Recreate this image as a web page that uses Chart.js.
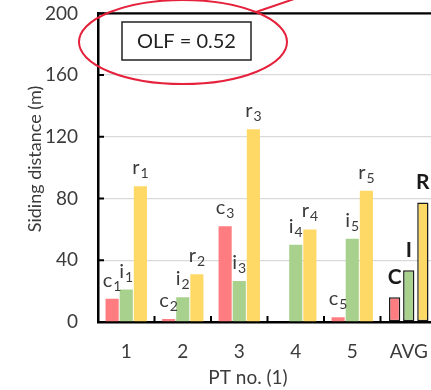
<!DOCTYPE html>
<html>
<head>
<meta charset="utf-8">
<script src="https://cdn.jsdelivr.net/npm/chart.js@4"></script>
<style>
  html, body { margin: 0; padding: 0; overflow: hidden; background: #fff; }
  #wrap { position: relative; width: 431px; height: 390px; overflow: hidden; }
  #chart { position: absolute; left: 0; top: 0; }
</style>
</head>
<body>
<div id="wrap"><canvas id="chart" width="440" height="390"></canvas></div>
<script>
// siding distance per PT, three cases c / i / r
const categories = ['1', '2', '3', '4', '5', 'AVG'];
const cValues = [15, 2, 62, 0, 3];
const iValues = [21, 16, 26.5, 50, 54];
const rValues = [88, 31, 125, 60, 85];
const avgValues = [16, 33.5, 77.5];   // C, I, R
const avgLabels = ['C', 'I', 'R'];
const seriesLetters = ['c', 'i', 'r'];
const yTicks = [0, 40, 80, 120, 160, 200];
const olfText = 'OLF = 0.52';

const colors = ['#ff7c80', '#a9d18e', '#ffd966'];
const textColor = '#3b3b3b';
const fontFamily = 'Lato, "Liberation Sans", sans-serif';

function withAvg(values) { return values.concat([null]); }
function avgOnly(v) { return [null, null, null, null, null, v]; }

const datasets = [];
[cValues, iValues, rValues].forEach(function(vals, k) {
    datasets.push({
        data: withAvg(vals),
        backgroundColor: colors[k],
        borderWidth: 0,
        categoryPercentage: 0.75,
        barPercentage: 0.93
    });
});
avgValues.forEach(function(v, k) {
    datasets.push({
        data: avgOnly(v),
        backgroundColor: colors[k],
        borderColor: '#1a1a1a',
        borderWidth: 1.5,
        borderSkipped: false,
        categoryPercentage: 0.75,
        barPercentage: 0.8
    });
});

// labels over the bars, frame, inward ticks, titles and the OLF callout
const decorations = {
    id: 'decorations',
    afterDraw: function(chart) {
        const ctx = chart.ctx;
        const area = chart.chartArea;
        const xs = chart.scales.x;
        const ys = chart.scales.y;
        ctx.save();

        // bar labels with subscripts
        ctx.fillStyle = textColor;
        ctx.textBaseline = 'alphabetic';
        for (let d = 0; d < 3; d++) {
            const meta = chart.getDatasetMeta(d);
            meta.data.forEach(function(bar, idx) {
                const v = chart.data.datasets[d].data[idx];
                if (!v) return;
                const main = seriesLetters[d];
                const sub = String(idx + 1);
                ctx.font = '20px ' + fontFamily;
                const w1 = ctx.measureText(main).width;
                ctx.font = '14px ' + fontFamily;
                const w2 = ctx.measureText(sub).width;
                const x0 = bar.x - (w1 + w2 + 1) / 2;
                const base = bar.y - 12;
                ctx.font = '20px ' + fontFamily;
                ctx.textAlign = 'left';
                ctx.fillText(main, x0, base);
                ctx.font = '14px ' + fontFamily;
                ctx.fillText(sub, x0 + w1 + 1, base + 4);
            });
        }
        ctx.fillStyle = '#1a1a1a';
        ctx.font = 'bold 21px ' + fontFamily;
        ctx.textAlign = 'center';
        for (let d = 3; d < 6; d++) {
            const bar = chart.getDatasetMeta(d).data[5];
            ctx.fillText(avgLabels[d - 3], bar.x, bar.y - 13);
        }

        // top frame line
        ctx.strokeStyle = '#000';
        ctx.lineWidth = 2.2;
        ctx.beginPath();
        ctx.moveTo(area.left - 1, area.top);
        ctx.lineTo(area.right + 10, area.top);
        ctx.stroke();

        // inward tick marks
        ctx.lineWidth = 2;
        ctx.beginPath();
        for (let i = 1; i < categories.length; i++) {
            const bx = (xs.getPixelForValue(i - 1) + xs.getPixelForValue(i)) / 2;
            ctx.moveTo(bx, area.bottom);
            ctx.lineTo(bx, area.bottom - 6);
        }
        yTicks.slice(1).forEach(function(t) {
            const py = ys.getPixelForValue(t);
            ctx.moveTo(area.left, py);
            ctx.lineTo(area.left + 6, py);
        });
        ctx.stroke();

        // axis titles
        ctx.fillStyle = textColor;
        ctx.font = '19px ' + fontFamily;
        ctx.textAlign = 'center';
        ctx.textBaseline = 'middle';
        ctx.fillText('PT no. (1)', 248, 378);
        ctx.save();
        ctx.translate(35, 159);
        ctx.rotate(-Math.PI / 2);
        ctx.font = '18px ' + fontFamily;
        ctx.fillText('Siding distance (m)', 0, 0);
        ctx.restore();

        // OLF box
        ctx.fillStyle = '#fff';
        ctx.fillRect(122, 22, 129, 38);
        ctx.strokeStyle = '#222';
        ctx.lineWidth = 1.5;
        ctx.strokeRect(122, 22, 129, 38);
        ctx.fillStyle = '#222';
        ctx.font = '20px ' + fontFamily;
        ctx.fillText(olfText, 186.5, 41.5);

        // red ellipse and pointer line
        ctx.strokeStyle = '#e5213b';
        ctx.lineWidth = 2;
        ctx.beginPath();
        ctx.ellipse(183, 42, 104, 42, 0, 0, Math.PI * 2);
        ctx.stroke();
        ctx.beginPath();
        ctx.moveTo(256, 12);
        ctx.lineTo(300, -3);
        ctx.stroke();

        ctx.restore();
    }
};

new Chart(document.getElementById('chart'), {
    type: 'bar',
    data: { labels: categories, datasets: datasets },
    options: {
        responsive: false,
        animation: false,
        skipNull: true,
        layout: { padding: { left: 0, top: 13, right: 3, bottom: 0 } },
        plugins: { legend: { display: false }, tooltip: { enabled: false } },
        scales: {
            x: {
                grid: { display: false },
                border: { color: '#000', width: 2.5 },
                ticks: { color: textColor, font: { family: fontFamily, size: 19 }, padding: 10 },
                afterFit: function(s) { s.height = 68; }
            },
            y: {
                min: 0,
                max: 200,
                afterBuildTicks: function(s) { s.ticks = yTicks.map(function(v) { return { value: v }; }); },
                // invisible tick length keeps the labels clear of the axis
                grid: { color: '#d9d9d9', lineWidth: 1.3, drawTicks: true, tickLength: 18, tickColor: 'rgba(0,0,0,0)' },
                border: { color: '#000', width: 2.5 },
                ticks: { color: textColor, font: { family: fontFamily, size: 19 }, padding: 2 },
                afterFit: function(s) { s.width = 98; }
            }
        }
    },
    plugins: [decorations]
});
</script>
</body>
</html>
